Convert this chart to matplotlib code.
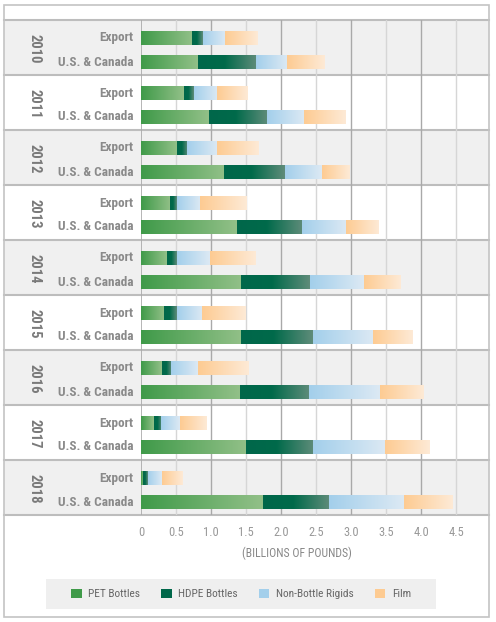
import matplotlib.pyplot as plt
import numpy as np
from matplotlib import font_manager
from matplotlib.colors import LinearSegmentedColormap
from matplotlib.patches import Rectangle, Patch

years = ["2010", "2011", "2012", "2013", "2014", "2015", "2016", "2017", "2018"]
rows = ["Export", "U.S. & Canada"]
materials = ["PET Bottles", "HDPE Bottles", "Non-Bottle Rigids", "Film"]

# billions of pounds, per year
pet_export = [0.73, 0.61, 0.51, 0.42, 0.37, 0.33, 0.30, 0.18, 0.03]
hdpe_export = [0.15, 0.14, 0.15, 0.09, 0.14, 0.18, 0.13, 0.11, 0.07]
nbr_export = [0.32, 0.34, 0.43, 0.33, 0.47, 0.36, 0.38, 0.26, 0.20]
film_export = [0.47, 0.43, 0.60, 0.66, 0.65, 0.62, 0.72, 0.38, 0.30]

pet_us = [0.81, 0.97, 1.19, 1.37, 1.43, 1.43, 1.41, 1.50, 1.74]
hdpe_us = [0.83, 0.83, 0.87, 0.93, 0.98, 1.02, 0.99, 0.96, 0.95]
nbr_us = [0.45, 0.53, 0.52, 0.63, 0.77, 0.86, 1.01, 1.03, 1.06]
film_us = [0.53, 0.59, 0.40, 0.47, 0.52, 0.57, 0.62, 0.64, 0.69]

solid = ["#3f9a49", "#00674a", "#a3cfeb", "#fdcb92"]
cmaps = [
    LinearSegmentedColormap.from_list("pet", ["#3f9a49", "#92c088"]),
    LinearSegmentedColormap.from_list("hdpe", [(0, "#00674a"), (0.45, "#006a4a"), (1, "#5f8c7a")]),
    LinearSegmentedColormap.from_list("nbr", ["#a3cfeb", "#dce9f4"]),
    LinearSegmentedColormap.from_list("film", ["#fdcb92", "#feead6"]),
]

# pick a narrow face if one is installed
names = {f.name for f in font_manager.fontManager.ttflist}
stretch = "normal"
scale = 1.0
if "Roboto Condensed" in names:
    fam = ["Roboto Condensed", "DejaVu Sans"]
elif "Liberation Sans Narrow" in names:
    fam = ["Liberation Sans Narrow", "DejaVu Sans"]
elif any(f.name == "DejaVu Sans" and f.stretch == "condensed" for f in font_manager.fontManager.ttflist):
    fam = ["DejaVu Sans", "DejaVu Sans"]
    stretch = "condensed"
    scale = 0.95
else:
    fam = ["Roboto", "DejaVu Sans"]
    scale = 0.85

W, H = 496, 622
fig = plt.figure(figsize=(W / 100, H / 100), dpi=100)
fig.patch.set_facecolor("white")

ax = fig.add_axes([141 / W, 1 - 515 / H, (489 - 141) / W, (515 - 20) / H])
n = len(years)
ax.set_facecolor("none")
for s in ax.spines.values():
    s.set_visible(False)

# alternating bands, extended into the label area
for i in range(n):
    face = "#f0f0f0" if i % 2 == 0 else "white"
    ax.add_patch(Rectangle((-137 / 348, i), 137 / 348 + 1, 1, transform=ax.get_yaxis_transform(),
                           facecolor=face, edgecolor="none", clip_on=False, zorder=0))
for i in range(n + 1):
    ax.plot([-137 / 348, 1], [i, i], transform=ax.get_yaxis_transform(), color="#bdbdbd",
            lw=1.5, clip_on=False, zorder=1)

# grid lines
for v in np.arange(0.5, 5, 1.0):
    ax.axvline(v, color="#d6d6d6", lw=1, zorder=1)
for v in range(1, 5):
    ax.axvline(v, color="#a9a9a9", lw=1, zorder=1)
ax.axvline(0, color="#a9a9a9", lw=1.2, zorder=1)

y_exp = np.arange(n) + 18 / 55
y_us = np.arange(n) + 42 / 55
bh = 14 / 55

series = [(y_exp, [pet_export, hdpe_export, nbr_export, film_export]),
          (y_us, [pet_us, hdpe_us, nbr_us, film_us])]
grad = np.linspace(0, 1, 256).reshape(1, -1)
for ypos, vals in series:
    left = np.zeros(n)
    for k, v in enumerate(vals):
        v = np.array(v)
        bars = ax.barh(ypos, v, left=left, height=bh, color="none", zorder=2)
        for p in bars.patches:
            x0, y0 = p.get_x(), p.get_y()
            ax.imshow(grad, cmap=cmaps[k], aspect="auto", zorder=3,
                      extent=[x0, x0 + p.get_width(), y0 + p.get_height(), y0])
        left += v
ax.set_ylim(n, 0)
ax.set_xlim(0, 348 / 70)

ax.set_xticks(np.arange(0, 5, 0.5))
ax.set_xticklabels(["0", "0.5", "1.0", "1.5", "2.0", "2.5", "3.0", "3.5", "4.0", "4.5"])
ax.set_xticks(range(0, 5), minor=True)
ax.tick_params(axis="x", which="major", length=0, pad=8, labelsize=9 * scale, labelcolor="#999999")
ax.tick_params(axis="x", which="minor", length=5, color="#a9a9a9", width=1)
for t in ax.get_xticklabels():
    t.set_family(fam)
    t.set_stretch(stretch)
ax.set_yticks([])

for i in range(n):
    for yy, lab in zip([y_exp[i], y_us[i]], rows):
        ax.text(-8 / 348, yy, lab, transform=ax.get_yaxis_transform(), ha="right", va="center",
                fontsize=9.5 * scale, fontweight="bold", color="#8a8a8a", family=fam, stretch=stretch)
    ax.text(-106 / 348, i + 0.52, years[i], transform=ax.get_yaxis_transform(), ha="center",
            va="center", rotation=270, fontsize=10.5 * scale, fontweight="bold", color="#7a7a7a",
            family=fam, stretch=stretch)

fig.text(297 / W, 1 - 553 / H, "(BILLIONS OF POUNDS)", ha="center", va="center",
         fontsize=8.5 * scale, color="#888888", family=fam, stretch=stretch)

# outer frame
fig.add_artist(Rectangle((4 / W, 1 - 617 / H), 485 / W, 612 / H, transform=fig.transFigure,
                         facecolor="none", edgecolor="#c4c4c4", lw=1.2))

# legend
fig.add_artist(Rectangle((46 / W, 1 - 609 / H), 390 / W, 30 / H, transform=fig.transFigure,
                         facecolor="#efefef", edgecolor="none"))
handles = [Patch(facecolor=c, edgecolor="none") for c in solid]
leg = fig.legend(handles, materials, loc="center", bbox_to_anchor=(241 / W, 1 - 594 / H),
                 ncol=4, frameon=False, handlelength=0.95, handleheight=0.95, handletextpad=0.6,
                 columnspacing=1.8, prop={"family": fam, "size": 8.2 * scale, "stretch": stretch})
for t in leg.get_texts():
    t.set_color("#666666")

fig.savefig("out.png", dpi=100)
